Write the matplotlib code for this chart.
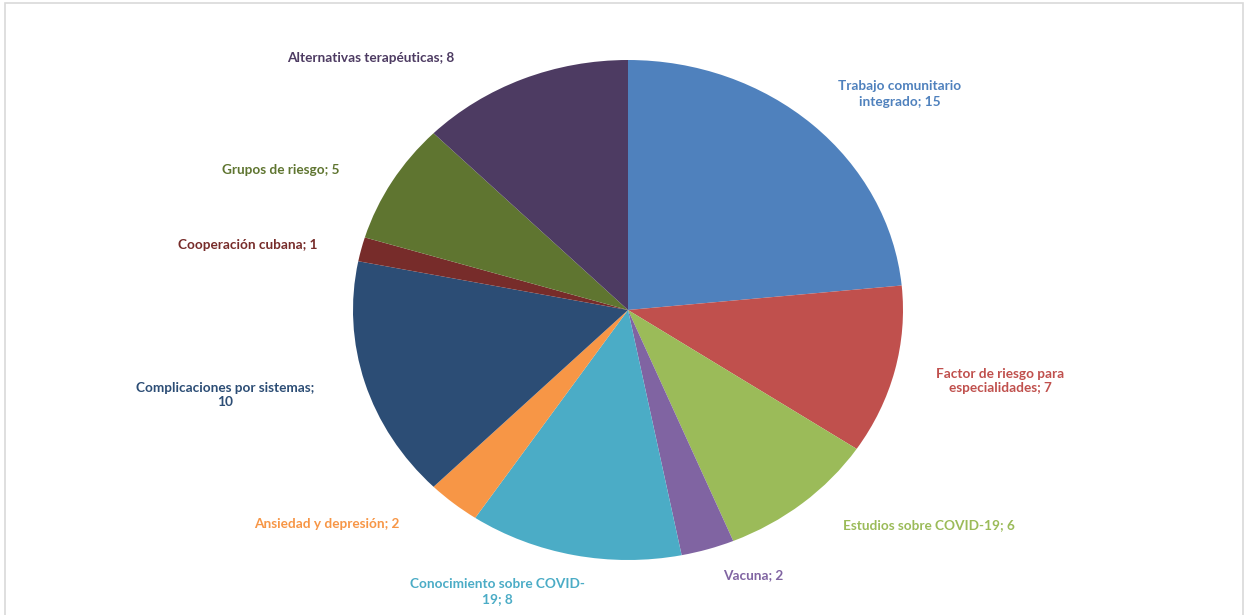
"""Pie chart of research topics (COVID-19 articles), Excel-style data labels."""

import matplotlib

matplotlib.use("Agg")
import matplotlib.pyplot as plt
from matplotlib.patches import Rectangle

categories = [
    "Trabajo comunitario\nintegrado",
    "Factor de riesgo para\nespecialidades",
    "Estudios sobre COVID-19",
    "Vacuna",
    "Conocimiento sobre COVID-\n19",
    "Ansiedad y depresión",
    "Complicaciones por sistemas;\n",
    "Cooperación cubana",
    "Grupos de riesgo",
    "Alternativas terapéuticas",
]
values = [15, 7, 6, 2, 8, 2, 10, 1, 5, 8]

slice_colors = ["#4F81BD", "#C0504D", "#9BBB59", "#8064A2", "#4BACC6",
                "#F79646", "#2C4D75", "#772C2A", "#5F7530", "#4D3B62"]

# label centres in image pixels (x, y from top)
label_pos = [(900, 94), (1000, 381), (929, 525), (753, 575), (497, 592),
             (327, 524), (225, 395), (248, 245), (281, 170), (371, 58)]

W, H = 1246, 615
CX, CY = 628, 310       # pie centre in pixels
RX, RY = 275, 250       # the source image is stretched horizontally

fig = plt.figure(figsize=(W / 100, H / 100), dpi=100)
ax = fig.add_axes([0, 0, 1, 1])
ax.pie(values, colors=slice_colors, startangle=90, counterclock=False,
       radius=1, center=(0, 0), wedgeprops=dict(linewidth=0))
ax.set_aspect("auto")
ax.set_xlim(-CX / RX, (W - CX) / RX)
ax.set_ylim((CY - H) / RY, CY / RY)
ax.axis("off")


def to_data(px, py):
    return (px - CX) / RX, (CY - py) / RY


for name, val, col, (px, py) in zip(categories, values, slice_colors, label_pos):
    if name.endswith(";\n"):
        text = f"{name}{val}"
    else:
        text = f"{name}; {val}"
    x, y = to_data(px, py)
    ax.text(x, y, text, ha="center", va="center", color=col,
            fontsize=9.8, fontweight="bold", family="Lato",
            linespacing=1.3, multialignment="center")

# thin frame of the chart area
frame = Rectangle((5 / W, -0.01), (W - 8) / W, 1 - 3 / H + 0.01,
                  transform=fig.transFigure, fill=False,
                  edgecolor="#D9D9D9", linewidth=1.2)
fig.add_artist(frame)

fig.savefig("out.png", dpi=100)
